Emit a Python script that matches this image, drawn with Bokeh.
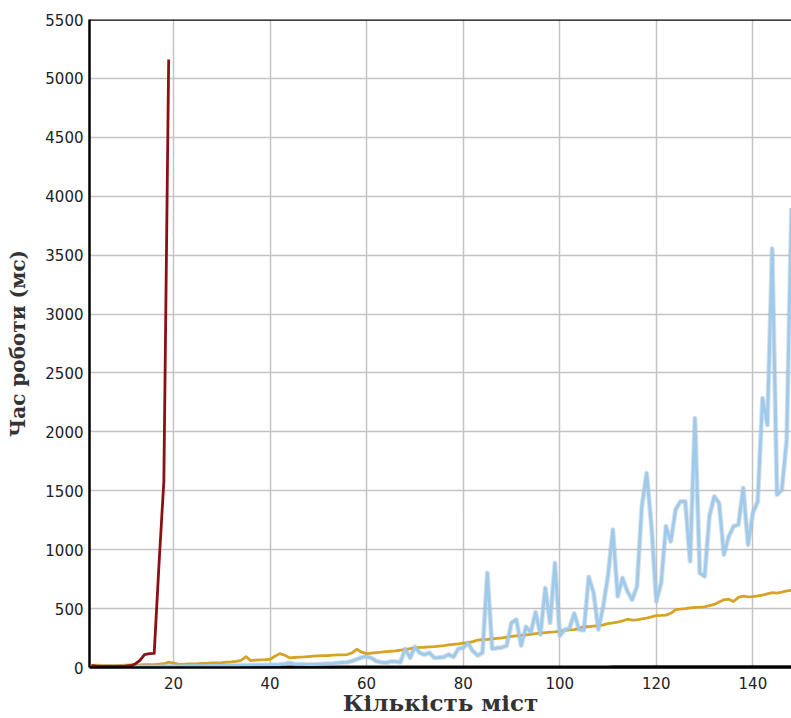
from bokeh.plotting import figure
from bokeh.models import FixedTicker, Span, Range1d
from bokeh.embed import file_html
from bokeh.resources import INLINE

# ---- data ----
x_all = list(range(3, 149))
x_red = list(range(3, 20))

red_ms = [15, 12, 10, 10, 10, 10, 10, 12, 15, 28, 58, 110, 118, 120, 880, 1580, 5160]

blue_ms = [5, 5, 6, 6, 7, 7, 8, 8,
           9, 9, 10, 10, 10, 11, 11, 12, 12, 12,
           13, 13, 14, 14, 15, 15, 15, 16, 16, 17,
           17, 18, 18, 19, 20, 20, 21, 22, 22, 23,
           24, 26, 30, 38, 30, 28, 27, 26, 25, 28,
           30, 32, 34, 38, 42, 45, 55, 70, 85, 95,
           80, 54, 45, 40, 50, 50, 45, 158, 82, 175,
           125, 110, 125, 82, 85, 90, 110, 90, 160, 167,
           209, 138, 102, 125, 802, 160, 165, 170, 186, 379,
           407, 186, 345, 299, 469, 280, 675, 379, 887, 270,
           320, 330, 458, 322, 316, 769, 633, 322, 520, 780,
           1169, 604, 760, 647, 576, 689, 1367, 1650, 1198, 562,
           718, 1198, 1070, 1340, 1409, 1409, 901, 2116, 802, 774,
           1282, 1452, 1395, 958, 1113, 1198, 1212, 1523, 1042, 1311,
           1409, 2285, 2059, 3557, 1466, 1508, 1932, 3900]

orange_ms = [18, 20, 17, 15, 15, 16, 18, 20,
             22, 20, 22, 25, 25, 24, 28, 32, 45, 38,
             28, 27, 30, 30, 32, 35, 36, 38, 40, 42,
             45, 48, 52, 60, 92, 58, 62, 65, 66, 70,
             95, 118, 105, 82, 85, 88, 90, 93, 96, 98,
             100, 102, 105, 107, 108, 110, 125, 155, 130, 118,
             122, 126, 130, 135, 138, 142, 148, 152, 160, 167,
             170, 172, 175, 178, 182, 186, 192, 196, 200, 206,
             212, 220, 232, 236, 238, 242, 248, 252, 258, 264,
             268, 272, 276, 282, 288, 292, 296, 300, 302, 306,
             316, 320, 322, 330, 348, 346, 352, 356, 362, 372,
             378, 385, 395, 410, 402, 405, 412, 420, 430, 440,
             442, 445, 460, 492, 495, 500, 506, 510, 512, 515,
             525, 535, 555, 575, 580, 560, 595, 605, 600, 602,
             608, 615, 625, 635, 632, 640, 650, 655]

black_ms = [3, 3, 3, 3, 3, 3, 3, 3,
            3, 3, 4, 4, 4, 4, 4, 4, 4, 5,
            5, 5, 5, 6, 12, 22, 8, 6, 6, 6,
            6, 6, 6, 7, 7, 7, 7, 7, 8, 8,
            10, 14, 9, 8, 8, 8, 8, 8, 8, 8,
            8, 8, 8, 8, 8, 8, 8, 8, 8, 8,
            8, 8, 8, 8, 8, 8, 8, 8, 8, 8,
            8, 8, 8, 8, 8, 8, 8, 8, 8, 8,
            8, 8, 8, 8, 9, 9, 9, 9, 9, 9,
            9, 9, 9, 9, 9, 9, 9, 9, 9, 9,
            9, 9, 9, 9, 9, 9, 9, 9, 9, 9,
            10, 10, 10, 10, 10, 10, 10, 10, 10, 10,
            10, 10, 10, 10, 10, 10, 10, 10, 10, 10,
            10, 10, 10, 10, 10, 10, 10, 10, 10, 10,
            10, 10, 10, 10, 10, 10, 10, 10]

x_ticks = [20, 40, 60, 80, 100, 120, 140]
y_ticks = [0, 500, 1000, 1500, 2000, 2500, 3000, 3500, 4000, 4500, 5000, 5500]
x_title = "Кількість міст"
y_title = "Час роботи (мс)"

# ---- figure ----
p = figure(width=791, height=718, x_range=Range1d(2.6, 148.0), y_range=Range1d(0, 5500),
           output_backend="svg", toolbar_location=None,
           min_border_left=89, min_border_right=0, min_border_top=19, min_border_bottom=50)
p.outline_line_color = None
p.background_fill_color = "white"
p.border_fill_color = "white"

p.xaxis.ticker = FixedTicker(ticks=x_ticks)
p.yaxis.ticker = FixedTicker(ticks=y_ticks)
for ax in (p.xaxis, p.yaxis):
    ax.axis_line_color = "black"
    ax.axis_line_width = 2.5
    ax.major_tick_line_color = None
    ax.minor_tick_line_color = None
    ax.major_tick_out = 0
    ax.major_tick_in = 0
    ax.major_label_text_font = "DejaVu Sans"
    ax.major_label_text_font_size = "15px"
    ax.major_label_text_color = "#222222"
    ax.axis_label_text_font = "DejaVu Serif"
    ax.axis_label_text_font_style = "bold"
    ax.axis_label_text_color = "#333333"

p.yaxis.axis_label = y_title
p.yaxis.axis_label_text_font_size = "20px"
p.yaxis.major_label_standoff = 6
p.yaxis.axis_label_standoff = 12

p.xaxis.axis_label = x_title
p.xaxis.axis_label_text_font_size = "23px"
p.xaxis.major_label_standoff = 9
p.xaxis.axis_label_standoff = -3

p.xgrid.grid_line_color = "#c4c4c4"
p.ygrid.grid_line_color = "#c4c4c4"
p.xgrid.grid_line_width = 1.5
p.ygrid.grid_line_width = 1.5

p.line(x_all, black_ms, line_color="#111111", line_width=2)
p.line(x_all, orange_ms, line_color="#d6a324", line_width=2.8, line_join="round")
p.line(x_all, blue_ms, line_color="#9aa8b6", line_alpha=0.35, line_width=5, line_join="round")
p.line(x_all, blue_ms, line_color="#9ecbeb", line_width=3, line_join="round")
p.line(x_red, red_ms, line_color="#8b1014", line_width=2.8, line_join="round")

p.add_layout(Span(location=5500, dimension="width", line_color="black", line_width=2.5))

open("out.html", "w").write(file_html(p, INLINE))
